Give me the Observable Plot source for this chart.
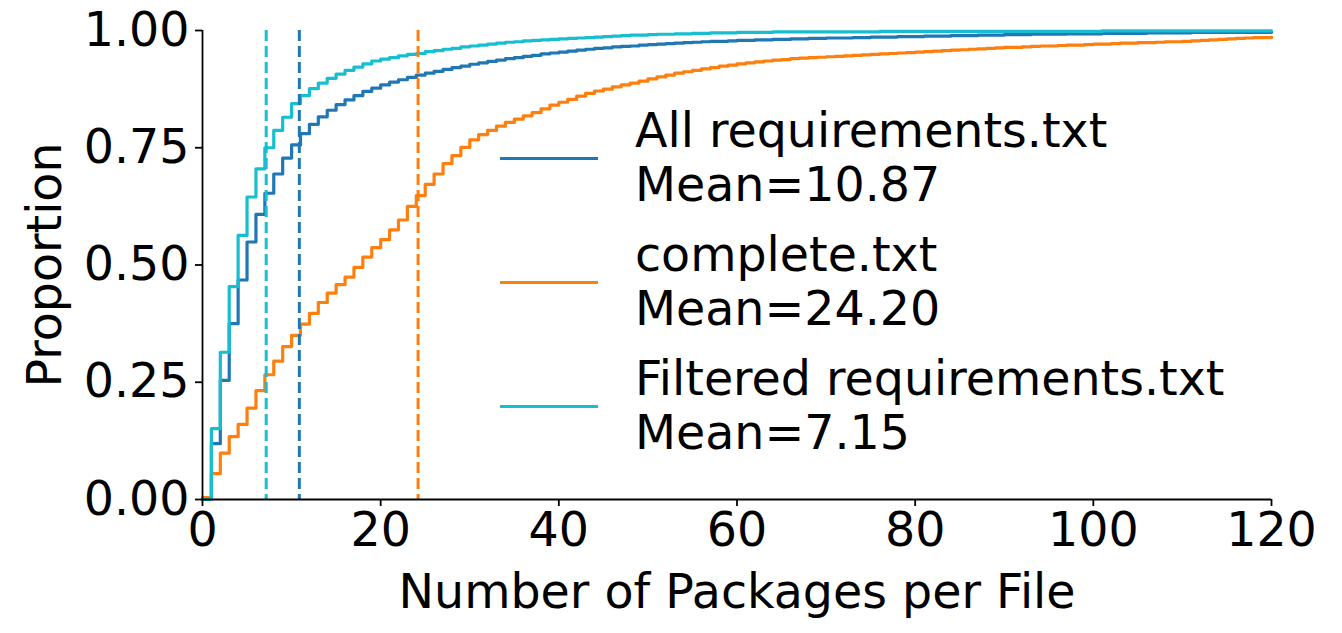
<!DOCTYPE html>
<html>
<head>
<meta charset="utf-8">
<script src="https://cdn.jsdelivr.net/npm/d3@7"></script>
<script src="https://cdn.jsdelivr.net/npm/@observablehq/plot@0.6"></script>
<style>
  html, body { margin: 0; padding: 0; background: #fff; }
  #wrap { position: relative; width: 1342px; height: 633px; font-family: "DejaVu Sans", sans-serif; color: #000; }
  .leg-row { position: absolute; left: 500px; }
  .leg-line { position: absolute; left: 0; width: 98px; height: 3px; }
  .leg-text { position: absolute; left: 135px; white-space: nowrap; font-size: 47.5px; line-height: 54px; }
</style>
</head>
<body>
<div id="wrap"></div>
<script>
// ---- data ----
const packageCounts = [0,1,2,3,4,5,6,7,8,9,10,11,12,13,14,15,16,17,18,19,20,21,22,23,24,25,26,27,28,29,30,31,32,33,34,35,36,37,38,39,40,41,42,43,44,45,46,47,48,49,50,51,52,53,54,55,56,57,58,59,60,61,62,63,64,65,66,67,68,69,70,71,72,73,74,75,76,77,78,79,80,81,82,83,84,85,86,87,88,89,90,91,92,93,94,95,96,97,98,99,100,101,102,103,104,105,106,107,108,109,110,111,112,113,114,115,116,117,118,119,120];

const seriesNames = ["All requirements.txt", "complete.txt", "Filtered requirements.txt"];
const seriesMeans = [10.87, 24.20, 7.15];
const seriesColors = ["#1f77b4", "#ff7f0e", "#17becf"];

const allProportion = [
  0, .119, .254, .375, .468, .549, .608, .653, .694, .728,
  .756, .780, .800, .816, .830, .842, .852, .861, .870, .877,
  .884, .890, .895, .900, .905, .909, .913, .917, .921, .924,
  .928, .931, .934, .937, .940, .942, .945, .947, .950, .952,
  .954, .956, .958, .960, .962, .963, .965, .966, .967, .969,
  .970, .971, .972, .973, .974, .975, .976, .977, .977, .978,
  .979, .979, .980, .980, .981, .981, .982, .982, .983, .983,
  .984, .984, .984, .985, .985, .986, .986, .986, .987, .987,
  .987, .988, .988, .988, .989, .989, .989, .990, .990, .990,
  .991, .991, .991, .992, .992, .992, .992, .993, .993, .993,
  .993, .994, .994, .994, .994, .994, .995, .995, .995, .995,
  .995, .996, .996, .996, .996, .996, .996, .996, .996, .996,
  .996
];

const completeProportion = [
  .004, .055, .099, .134, .160, .195, .232, .266, .295, .326,
  .350, .374, .397, .420, .440, .458, .474, .495, .517, .537,
  .554, .575, .596, .625, .648, .672, .694, .716, .733, .751,
  .767, .778, .787, .796, .804, .811, .818, .825, .833, .841,
  .847, .853, .860, .866, .871, .875, .880, .884, .888, .892,
  .897, .901, .905, .909, .912, .915, .918, .921, .924, .926,
  .929, .931, .933, .935, .937, .938, .940, .941, .942, .943,
  .944, .945, .946, .947, .948, .949, .950, .951, .952, .953,
  .954, .955, .956, .957, .958, .959, .960, .961, .962, .963,
  .964, .964, .965, .966, .967, .967, .968, .969, .969, .970,
  .971, .971, .972, .973, .973, .974, .974, .975, .976, .976,
  .977, .978, .979, .980, .981, .982, .983, .984, .985, .985,
  .986
];

const filteredProportion = [
  0, .151, .314, .454, .563, .645, .705, .750, .787, .815,
  .844, .861, .876, .888, .898, .907, .915, .922, .929, .935,
  .939, .942, .946, .949, .951, .955, .957, .960, .962, .965,
  .967, .969, .971, .973, .975, .976, .978, .979, .980, .981,
  .982, .983, .984, .985, .986, .987, .988, .989, .990, .990,
  .991, .992, .992, .993, .993, .994, .994, .995, .995, .995,
  .996, .996, .996, .996, .997, .997, .997, .997, .997, .997,
  .997, .997, .997, .997, .997, .997, .998, .998, .998, .998,
  .998, .998, .998, .998, .998, .998, .998, .998, .998, .998,
  .998, .998, .998, .998, .998, .998, .998, .998, .998, .998,
  .998, .999, .999, .999, .999, .999, .999, .999, .999, .999,
  .999, .999, .999, .999, .999, .999, .999, .999, .999, .999,
  .999
];

const xTicks = [0, 20, 40, 60, 80, 100, 120];
const yTicks = [0, 0.25, 0.5, 0.75, 1.0];
const xLabel = "Number of Packages per File";
const yLabel = "Proportion";

// ---- build tables ----
const seriesValues = [allProportion, completeProportion, filteredProportion];
const rows = [];
seriesNames.forEach((name, i) => {
  packageCounts.forEach((n, j) => rows.push({series: name, n, p: seriesValues[i][j]}));
});
const meanRows = seriesNames.map((name, i) => ({series: name, mean: seriesMeans[i]}));

const FS = 47.5;
const chart = Plot.plot({
  width: 1342,
  height: 633,
  marginLeft: 202,
  marginRight: 71,
  marginTop: 30,
  marginBottom: 134,
  style: {fontFamily: "DejaVu Sans, sans-serif", color: "#000", background: "#fff", overflow: "visible"},
  x: {domain: [0, 120]},
  y: {domain: [0, 1]},
  color: {domain: seriesNames, range: seriesColors},
  marks: [
    Plot.line(rows, {x: "n", y: "p", z: "series", stroke: "series", curve: "step-after", strokeWidth: 3.2}),
    Plot.ruleX(meanRows, {x: "mean", stroke: "series", strokeDasharray: "11,5", strokeWidth: 3}),
    Plot.ruleY([0], {stroke: "#000", strokeWidth: 1.8}),
    Plot.ruleX([0], {stroke: "#000", strokeWidth: 1.8}),
    Plot.axisX({ticks: xTicks, tickSize: 7, tickPadding: 6, fontSize: FS, strokeWidth: 1.8, label: null}),
    Plot.axisY({ticks: yTicks, tickFormat: d3.format(".2f"), tickSize: 7, tickPadding: 6, fontSize: FS, strokeWidth: 1.8, label: null}),
    Plot.text([xLabel], {text: d => d, frameAnchor: "bottom", dy: 93, fontSize: FS, textAnchor: "middle", lineAnchor: "middle"}),
    Plot.text([yLabel], {text: d => d, frameAnchor: "left", dx: -157, rotate: -90, fontSize: FS, textAnchor: "middle", lineAnchor: "middle"})
  ]
});

const wrap = document.getElementById("wrap");
wrap.appendChild(chart);

// ---- legend (HTML overlay) ----
seriesNames.forEach((name, i) => {
  const row = document.createElement("div");
  row.className = "leg-row";
  row.style.top = (104 + i * 124) + "px";
  const line = document.createElement("div");
  line.className = "leg-line";
  line.style.background = seriesColors[i];
  line.style.top = "53px";
  const txt = document.createElement("div");
  txt.className = "leg-text";
  txt.style.top = "0px";
  const l1 = document.createElement("div"); l1.textContent = name;
  const l2 = document.createElement("div"); l2.textContent = "Mean=" + d3.format(".2f")(seriesMeans[i]);
  txt.appendChild(l1); txt.appendChild(l2);
  row.appendChild(line); row.appendChild(txt);
  wrap.appendChild(row);
});
</script>
</body>
</html>
